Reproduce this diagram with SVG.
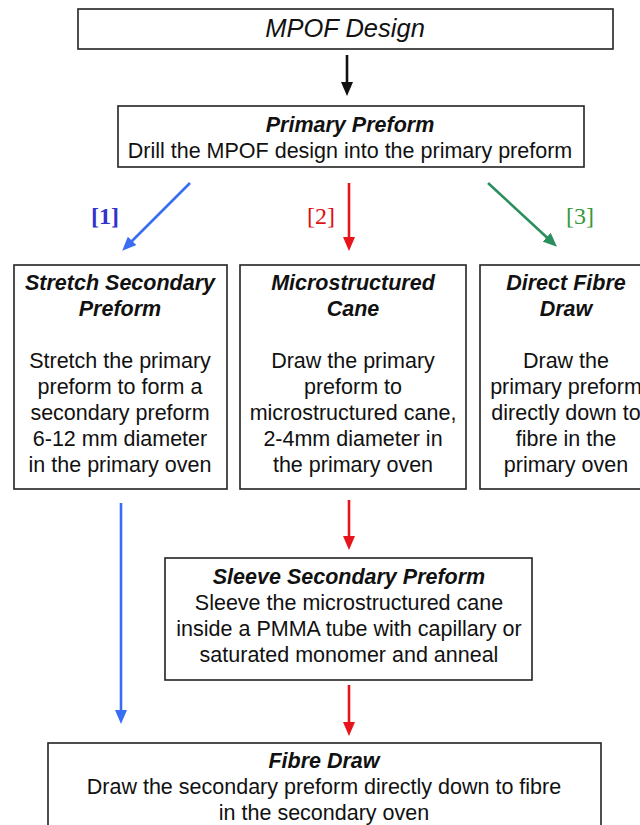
<svg xmlns="http://www.w3.org/2000/svg" width="640" height="825" viewBox="0 0 640 825">
<style>
.box{fill:#fff;stroke:#222;stroke-width:1.6}
.t{font-family:"Liberation Sans",Arial,sans-serif;font-size:21.5px;fill:#111;text-anchor:middle}
.h{font-weight:bold;font-style:italic}
.lbl{font-family:"Liberation Serif","Times New Roman",serif;font-size:24px;text-anchor:middle}
.k{stroke:#111;stroke-width:2.6;fill:none}
.b{stroke:#3a6ef2;stroke-width:2.6;fill:none}
.r{stroke:#e8141c;stroke-width:2.6;fill:none}
.g{stroke:#2a8f5e;stroke-width:2.6;fill:none}
</style>
<defs>
<marker id="ak" markerUnits="userSpaceOnUse" markerWidth="14" markerHeight="12" refX="10" refY="6" orient="auto"><path d="M0,0L14,6L0,12z" fill="#111"/></marker>
<marker id="ab" markerUnits="userSpaceOnUse" markerWidth="14" markerHeight="12" refX="10" refY="6" orient="auto"><path d="M0,0L14,6L0,12z" fill="#3a6ef2"/></marker>
<marker id="ar" markerUnits="userSpaceOnUse" markerWidth="14" markerHeight="12" refX="10" refY="6" orient="auto"><path d="M0,0L14,6L0,12z" fill="#e8141c"/></marker>
<marker id="ag" markerUnits="userSpaceOnUse" markerWidth="14" markerHeight="12" refX="10" refY="6" orient="auto"><path d="M0,0L14,6L0,12z" fill="#2a8f5e"/></marker>
</defs>
<rect width="640" height="825" fill="#fff"/>

<g id="connectors">
<line class="k" x1="347" y1="55" x2="347" y2="92" marker-end="url(#ak)"/>
<line class="b" x1="190" y1="183" x2="125" y2="248" marker-end="url(#ab)"/>
<line class="r" x1="349" y1="183" x2="349" y2="247" marker-end="url(#ar)"/>
<line class="g" x1="488" y1="183" x2="554" y2="244" marker-end="url(#ag)"/>
<line class="b" x1="121" y1="503" x2="121" y2="720" marker-end="url(#ab)"/>
<line class="r" x1="349" y1="500" x2="349" y2="546" marker-end="url(#ar)"/>
<line class="r" x1="349" y1="685" x2="349" y2="732" marker-end="url(#ar)"/>
<text class="lbl" x="105" y="224" fill="#3333cc" font-weight="bold">[1]</text>
<text class="lbl" x="321" y="224" fill="#dd1111">[2]</text>
<text class="lbl" x="580" y="224" fill="#33993a">[3]</text>
</g>

<g id="mpof-design">
<rect class="box" x="78" y="9" width="535" height="40"/>
<text class="t" x="345" y="37" style="font-style:italic;font-size:25.5px">MPOF Design</text>
</g>

<g id="primary-preform">
<rect class="box" x="118" y="106" width="466" height="61"/>
<text class="t h" x="350" y="132">Primary Preform</text>
<text class="t" x="350" y="158">Drill the MPOF design into the primary preform</text>
</g>

<g id="stretch-secondary-preform">
<rect class="box" x="14" y="265" width="213" height="224"/>
<text class="t h" x="120" y="290">Stretch Secondary</text>
<text class="t h" x="120" y="316">Preform</text>
<text class="t" x="120" y="368">Stretch the primary</text>
<text class="t" x="120" y="394">preform to form a</text>
<text class="t" x="120" y="420">secondary preform</text>
<text class="t" x="120" y="446">6-12 mm diameter</text>
<text class="t" x="120" y="472">in the primary oven</text>
</g>

<g id="microstructured-cane">
<rect class="box" x="240" y="265" width="226" height="224"/>
<text class="t h" x="353" y="290">Microstructured</text>
<text class="t h" x="353" y="316">Cane</text>
<text class="t" x="353" y="368">Draw the primary</text>
<text class="t" x="353" y="394">preform to</text>
<text class="t" x="353" y="420">microstructured cane,</text>
<text class="t" x="353" y="446">2-4mm diameter in</text>
<text class="t" x="353" y="472">the primary oven</text>
</g>

<g id="direct-fibre-draw">
<rect class="box" x="480" y="265" width="172" height="224"/>
<text class="t h" x="566" y="290">Direct Fibre</text>
<text class="t h" x="566" y="316">Draw</text>
<text class="t" x="566" y="368">Draw the</text>
<text class="t" x="566" y="394">primary preform</text>
<text class="t" x="566" y="420">directly down to</text>
<text class="t" x="566" y="446">fibre in the</text>
<text class="t" x="566" y="472">primary oven</text>
</g>

<g id="sleeve-secondary-preform">
<rect class="box" x="165" y="558" width="367" height="122"/>
<text class="t h" x="349" y="584">Sleeve Secondary Preform</text>
<text class="t" x="349" y="610">Sleeve the microstructured cane</text>
<text class="t" x="349" y="636">inside a PMMA tube with capillary or</text>
<text class="t" x="349" y="662">saturated monomer and anneal</text>
</g>

<g id="fibre-draw">
<rect class="box" x="48" y="743" width="553" height="100"/>
<text class="t h" x="324" y="768">Fibre Draw</text>
<text class="t" x="324" y="794">Draw the secondary preform directly down to fibre</text>
<text class="t" x="324" y="820">in the secondary oven</text>
</g>
</svg>
